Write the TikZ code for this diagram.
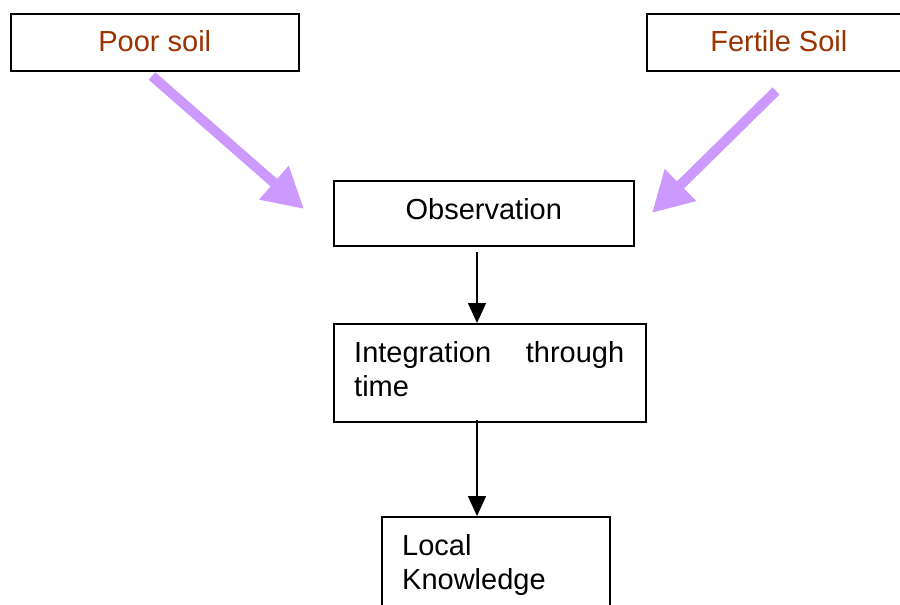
\documentclass[tikz,border=0pt]{standalone}
\usepackage{fontspec}
\setmainfont{Liberation Sans}
\usetikzlibrary{arrows.meta}
\definecolor{soilred}{HTML}{993300}
\definecolor{lilac}{HTML}{CC99FF}
\begin{document}
\begin{tikzpicture}[x=1pt,y=-1pt,
  box/.style={draw=black,line width=1.6pt,inner sep=0pt,anchor=north west},
  lbl/.style={font=\fontsize{29}{34}\selectfont,inner sep=0pt},
  bigarrow/.style={draw=lilac,line width=10pt,-{Triangle[width=42pt,length=40pt]}},
  thinarrow/.style={draw=black,line width=1.5pt,-{Triangle[width=18pt,length=20pt]}}]
\useasboundingbox[fill=white] (0,0) rectangle (900,605);
% boxes
\node[box,minimum width=288pt,minimum height=57pt] (poor) at (10,13) {};
\node[lbl,text=soilred] (poort) at ([yshift=1pt]poor.center) {Poor soil};
\node[box,minimum width=264pt,minimum height=57pt] (fertile) at (646,13) {};
\node[lbl,text=soilred] (fertilet) at ([yshift=1pt]fertile.center) {Fertile Soil};
\node[box,minimum width=300pt,minimum height=65pt] (obs) at (333,180) {};
\node[lbl] (obst) at ([yshift=4pt]obs.center) {Observation};
\node[box,minimum width=312pt,minimum height=98pt] (integ) at (333,323) {};
\node[lbl,anchor=base west,align=left] (integt) at (354,396) {\makebox[270pt][s]{Integration through}\\time};
\node[box,minimum width=228pt,minimum height=110pt] (local) at (381,516) {};
\node[lbl,anchor=base west,align=left] (localt) at (402,589) {Local\\Knowledge};
% arrow ends
\coordinate (pa) at (152,76);
\coordinate (pb) at (304,209);
\coordinate (fa) at (776,91);
\coordinate (fb) at (652,213);
\coordinate (o1) at (477,252);
\coordinate (i1) at (477,323);
\coordinate (i2) at (477,420);
\coordinate (l1) at (477,516);
\draw[bigarrow] (pa) -- (pb);
\draw[bigarrow] (fa) -- (fb);
\draw[thinarrow] (o1) -- (i1);
\draw[thinarrow] (i2) -- (l1);
\end{tikzpicture}
\end{document}
